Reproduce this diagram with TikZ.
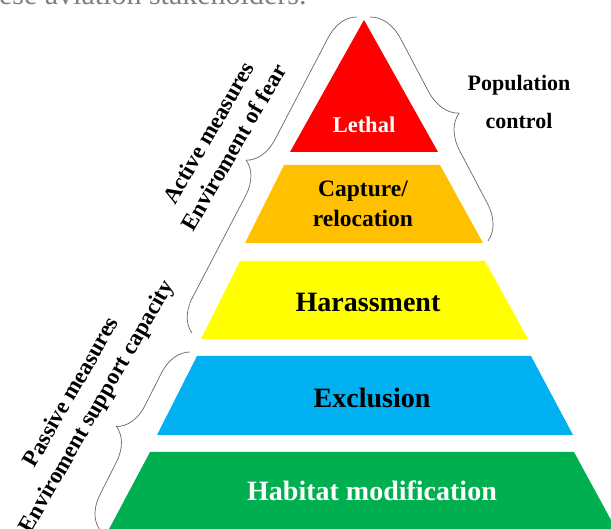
\documentclass[tikz,border=0pt]{standalone}
\usepackage{fontspec}
\setmainfont{Liberation Serif}
\usetikzlibrary{decorations.pathreplacing}

\definecolor{lethalred}{RGB}{255,0,0}
\definecolor{captureorange}{RGB}{255,192,0}
\definecolor{harassyellow}{RGB}{255,255,0}
\definecolor{exclusionblue}{RGB}{0,176,240}
\definecolor{habitatgreen}{RGB}{0,176,80}

\begin{document}
\begin{tikzpicture}[x=1pt,y=-1pt,
    bracket/.style={decorate,decoration={brace,amplitude=#1},draw=black!60,line width=0.7pt},
    bracket/.default=32pt,
    tier/.style={font=\bfseries\fontsize{28}{30}\selectfont,align=center},
    side/.style={font=\bfseries\fontsize{23}{29}\selectfont,align=center,rotate=60}]
    \useasboundingbox (0,0) rectangle (611,529);
    \clip (0,0) rectangle (611,529);

    % leftover line of the running text above
    \node[anchor=base east,text=black!50,font=\fontsize{30}{30}\selectfont] (heading) at (310,5) {ese aviation stakeholders.};

    % the five tiers, top to bottom
    \fill[lethalred]     (364,20) -- (438,152) -- (290,152) -- cycle;
    \fill[captureorange] (284,165) -- (440,165) -- (483,243) -- (245,243) -- cycle;
    \fill[harassyellow]  (240,261) -- (485,261) -- (528,339) -- (201,339) -- cycle;
    \fill[exclusionblue] (197,356) -- (531,356) -- (573,435) -- (157,435) -- cycle;
    \fill[habitatgreen]  (150,452) -- (574,452) -- (617,531) -- (108,531) -- cycle;

    \node[tier,text=white,font=\bfseries\fontsize{22.5}{24}\selectfont] (lethal) at (364,125) {Lethal};
    \node[tier,font=\bfseries\fontsize{23.5}{30}\selectfont] (capture) at (363,204) {Capture/\\relocation};
    \node[tier] (harass)    at (368,302) {Harassment};
    \node[tier] (exclusion) at (372,398) {Exclusion};
    \node[tier,text=white] (habitat) at (372,491) {Habitat modification};

    % braces round the groups
    \coordinate (active-lo)  at (192,333);
    \coordinate (active-hi)  at (357,17);
    \coordinate (passive-lo) at (100,530);
    \coordinate (passive-hi) at (190,352);
    \coordinate (control-hi) at (370,17);
    \coordinate (control-lo) at (488,241);

    \draw[bracket] (active-lo) -- (active-hi);
    \draw[bracket] (passive-lo) -- (passive-hi);
    \draw[bracket=34pt] (control-hi) -- (control-lo);

    \node[side] (active)  at (221,140) {Active measures\\Enviroment of fear};
    \node[side] (passive) at (85,400)  {Passive measures\\Enviroment support capacity};
    \node[align=center,font=\bfseries\fontsize{22}{38}\selectfont] (popctrl) at (519,102) {Population\\control};
\end{tikzpicture}
\end{document}
